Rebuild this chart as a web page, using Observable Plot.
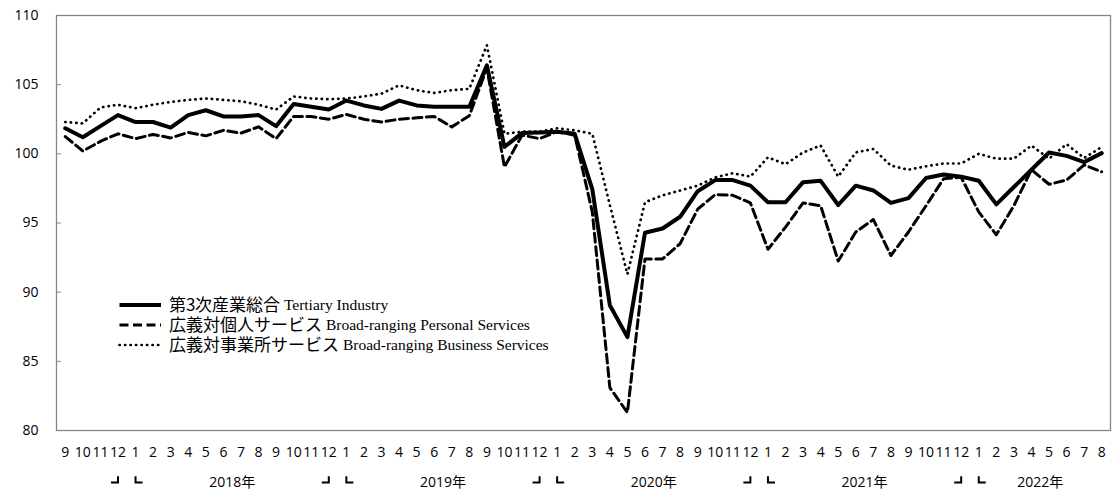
<!DOCTYPE html>
<html><head><meta charset="utf-8">
<script src="https://cdn.jsdelivr.net/npm/d3@7"></script>
<script src="https://cdn.jsdelivr.net/npm/@observablehq/plot@0.6"></script>
<style>
@font-face{font-family:"JPTight";src:local("Noto Sans CJK JP"),local("Noto Sans CJK JP Regular"),local("NotoSansCJKjp-Regular");ascent-override:90%;descent-override:16%;line-gap-override:0%;}
body{margin:0;background:#fff;}
#wrap{position:relative;width:1112px;height:490px;}
#legend{position:absolute;left:118px;top:295px;}
.row{display:flex;align-items:center;height:20px;white-space:nowrap;}
.row svg{margin-right:6px;flex:none;}
.jp,.en{display:inline-block;height:20px;line-height:20px;overflow:visible;}
.jp{font-family:"JPTight","Noto Sans CJK JP";font-size:17px;}
.en{font-family:"Liberation Serif";font-size:15.5px;}
</style></head><body><div id="wrap"><div id="legend"></div></div>
<script>
// Month labels, 2017/9 .. 2022/8
const monthLabels = ["9","10","11","12",
 "1","2","3","4","5","6","7","8","9","10","11","12",
 "1","2","3","4","5","6","7","8","9","10","11","12",
 "1","2","3","4","5","6","7","8","9","10","11","12",
 "1","2","3","4","5","6","7","8","9","10","11","12",
 "1","2","3","4","5","6","7","8"];
const startYear = 2017;
const yearSuffix = "年";
const yTicks = [80, 85, 90, 95, 100, 105, 110];

const tertiary = [101.85,101.2,102.0,102.8,102.3,102.3,101.9,102.8,103.15,102.7,102.7,102.8,
 102.0,103.6,103.4,103.2,103.85,103.5,103.25,103.85,103.5,103.4,103.4,103.4,
 106.4,100.5,101.5,101.55,101.6,101.45,97.45,89.05,86.75,94.3,94.6,95.45,
 97.3,98.1,98.1,97.7,96.5,96.5,97.95,98.05,96.3,97.7,97.35,96.45,
 96.8,98.25,98.5,98.35,98.05,96.35,97.6,98.85,100.1,99.85,99.4,100.05];
const personal = [101.25,100.2,100.9,101.45,101.1,101.4,101.15,101.55,101.3,101.7,101.5,101.95,
 101.1,102.7,102.7,102.5,102.85,102.5,102.3,102.5,102.6,102.7,101.95,102.75,
 106.2,99.05,101.35,101.1,101.6,101.35,95.8,83.1,81.3,92.4,92.4,93.5,
 96.0,97.05,97.0,96.45,93.1,94.7,96.45,96.25,92.25,94.35,95.25,92.65,
 94.35,96.25,98.2,98.3,95.8,94.15,96.25,98.85,97.8,98.1,99.2,98.7];
const business = [102.3,102.2,103.35,103.55,103.3,103.55,103.75,103.9,104.0,103.9,103.8,103.55,
 103.2,104.15,104.0,103.95,104.0,104.15,104.35,104.95,104.6,104.4,104.6,104.7,
 107.85,101.45,101.6,101.6,101.85,101.7,101.45,96.3,91.3,96.5,97.0,97.35,
 97.7,98.3,98.6,98.35,99.75,99.25,100.1,100.6,98.35,100.1,100.35,99.15,
 98.85,99.1,99.3,99.3,100.0,99.65,99.65,100.6,99.65,100.7,99.7,100.5];

const seriesNames = [
 ["第3次産業総合", "Tertiary Industry"],
 ["広義対個人サービス", "Broad-ranging Personal Services"],
 ["広義対事業所サービス", "Broad-ranging Business Services"]
];

// derived category info
const idx = d3.range(monthLabels.length);
const janIdx = idx.filter(i => monthLabels[i] === "1");
const decIdx = janIdx.map(i => i - 1);
const yearOf = [];
{ let y = startYear; idx.forEach(i => { if (monthLabels[i] === "1" && i > 0) y++; yearOf.push(y); }); }
const yearGroups = d3.groups(idx.filter(i => yearOf[i] > startYear), i => yearOf[i])
  .map(([y, is]) => ({label: y + yearSuffix, x: d3.mean(is)}));

// bracket symbols (year separators)
const bracketEnd = {draw(ctx, size) { const r = Math.sqrt(size / Math.PI); ctx.moveTo(-r, 0); ctx.lineTo(0, 0); ctx.lineTo(0, -r * 0.9); }};
const bracketStart = {draw(ctx, size) { const r = Math.sqrt(size / Math.PI); ctx.moveTo(0, -r * 0.9); ctx.lineTo(0, 0); ctx.lineTo(r, 0); }};

const chart = Plot.plot({
  width: 1112, height: 490,
  marginLeft: 56, marginRight: 2, marginTop: 15, marginBottom: 60,
  style: {fontFamily: "'Open Sans','Noto Sans CJK JP',sans-serif", fontSize: "14px", color: "#000", background: "#fff"},
  x: {type: "linear", domain: [-0.5, monthLabels.length - 0.5]},
  y: {domain: [80, 110]},
  marks: [
    Plot.frame({stroke: "#868686", strokeWidth: 1.3}),
    Plot.axisY(yTicks, {tickSize: 0, tickPadding: 18, label: null, fontSize: 14}),
    Plot.axisY(yTicks, {tickSize: 5, dx: 5, tickFormat: () => "", label: null, stroke: "#868686"}),
    Plot.axisX(idx, {tickSize: 0, tickPadding: 17, tickFormat: i => monthLabels[i], label: null, fontSize: 14}),
    Plot.text(yearGroups, {x: "x", text: "label", frameAnchor: "bottom", dy: 56, fontSize: 14}),
    Plot.dot(decIdx, {x: d => d, frameAnchor: "bottom", dy: 52, r: 7, symbol: bracketEnd, stroke: "#000", strokeWidth: 2, fill: "none"}),
    Plot.dot(janIdx, {x: d => d, frameAnchor: "bottom", dy: 52, r: 7, symbol: bracketStart, stroke: "#000", strokeWidth: 2, fill: "none"}),
    Plot.lineY(business, {x: (d, i) => i, y: d => d, stroke: "#000", strokeWidth: 2.7, strokeDasharray: "0.3 5.2", strokeLinecap: "round", strokeLinejoin: "round"}),
    Plot.lineY(personal, {x: (d, i) => i, y: d => d, stroke: "#000", strokeWidth: 3, strokeDasharray: "9 4.5", strokeLinejoin: "round"}),
    Plot.lineY(tertiary, {x: (d, i) => i, y: d => d, stroke: "#000", strokeWidth: 4, strokeLinejoin: "round"})
  ]
});
document.getElementById("wrap").prepend(chart);

// legend
const styles = [
  {w: 4, dash: null, cap: "butt"},
  {w: 3, dash: "9 4.5", cap: "butt"},
  {w: 2.7, dash: "0.3 5.2", cap: "round"}
];
const legend = d3.select("#legend");
seriesNames.forEach((n, k) => {
  const row = legend.append("div").attr("class", "row");
  const s = row.append("svg").attr("width", 45).attr("height", 10);
  s.append("line").attr("x1", 1.5).attr("x2", 43).attr("y1", 5).attr("y2", 5)
    .attr("stroke", "#000").attr("stroke-width", styles[k].w)
    .attr("stroke-dasharray", styles[k].dash).attr("stroke-linecap", styles[k].cap);
  row.append("span").attr("class", "jp").text(n[0]);
  row.append("span").attr("class", "en").text("\u00a0" + n[1]);
});
</script></body></html>
